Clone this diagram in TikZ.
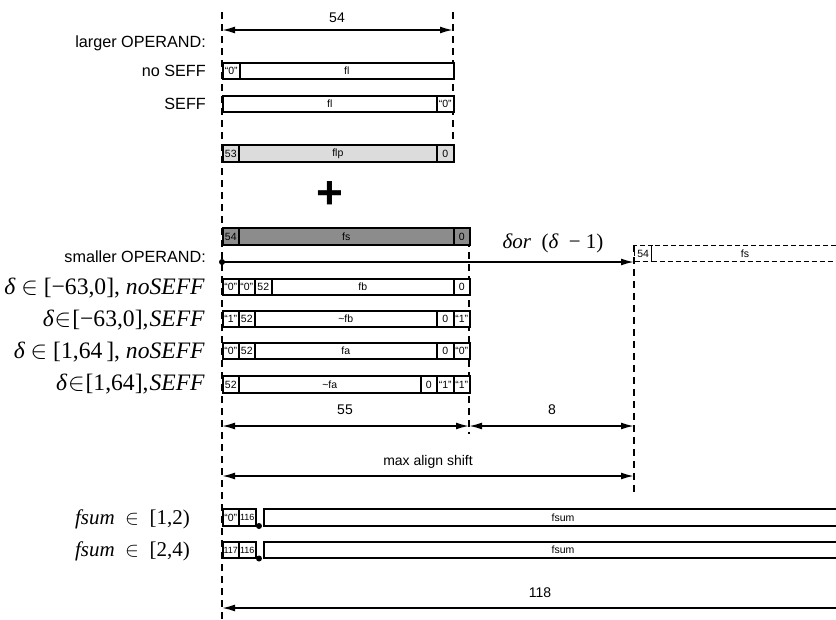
\documentclass[tikz,border=0pt]{standalone}
\usepackage{fontspec}
\setmainfont{Liberation Serif}
\setsansfont{Liberation Sans}
\usetikzlibrary{arrows.meta}
\definecolor{lightfill}{RGB}{220,220,220}
\definecolor{darkfill}{RGB}{140,140,140}
\tikzset{
  cell/.style={draw, line width=1.6pt, minimum height=16.5pt, inner sep=0pt, anchor=west,
               font=\fontsize{10.5}{10.5}\selectfont\sffamily},
  dcell/.style={cell, dashed, dash pattern=on 5pt off 3pt, line width=1.3pt},
  guide/.style={line width=1.8pt, dash pattern=on 7pt off 5pt},
  dim/.style={line width=1.8pt, {Latex[length=13pt,width=7pt]}-{Latex[length=13pt,width=7pt]}},
  dimr/.style={line width=1.8pt, -{Latex[length=13pt,width=7pt]}},
  diml/.style={line width=1.8pt, {Latex[length=13pt,width=7pt]}-},
  lbl/.style={font=\fontsize{16.2}{16.2}\selectfont\sffamily, anchor=east, inner sep=0pt},
  num/.style={font=\fontsize{14}{14}\selectfont\sffamily, inner sep=0pt},
  mlbl/.style={font=\fontsize{23.6}{23.6}\selectfont\rmfamily, anchor=east, inner sep=0pt},
  flbl/.style={font=\fontsize{21}{21}\selectfont\rmfamily, anchor=east, inner sep=0pt},
  dotm/.style={circle, fill, inner sep=0pt, minimum size=6pt}
}
\newcommand\cellbox[6]{\node[cell, fill=#6, minimum width={#3-#2}] (#1) at (#2,#4) {#5};}
\newcommand\dlt{{\itshape δ}}
\begin{document}
\begin{tikzpicture}[x=1pt, y=-1pt]
\useasboundingbox (0,0) rectangle (836,619);
\clip (0,0) rectangle (836,619);

% guide lines
\coordinate (gA1) at (222,12);  \coordinate (gA2) at (222,619);
\coordinate (gB1) at (453,12);  \coordinate (gB2) at (453,162);
\coordinate (gC1) at (469,228); \coordinate (gC2) at (469,434);
\coordinate (gD1) at (634,245); \coordinate (gD2) at (634,492);
\draw[guide] (gA1) -- (gA2);
\draw[guide] (gB1) -- (gB2);
\draw[guide] (gC1) -- (gC2);
\draw[guide] (gD1) -- (gD2);

% dimension 54
\coordinate (d54a) at (222,30); \coordinate (d54b) at (453,30);
\draw[dim] (d54a) -- (d54b);
\node[num] (t54) at (337,18) {54};

% left labels
\node[lbl] (lLarger) at (206,43) {larger OPERAND:};
\node[lbl] (lNoSeff) at (206,71) {no SEFF};
\node[lbl] (lSeff) at (206,104) {SEFF};
\node[lbl] (lSmaller) at (206,257) {smaller OPERAND:};

% larger operand rows
\cellbox{a1}{222}{239}{71}{``0''}{white}
\cellbox{a2}{239}{453}{71}{fl}{white}
\cellbox{b1}{222}{436}{104}{fl}{white}
\cellbox{b2}{436}{453}{104}{``0''}{white}
\cellbox{c1}{222}{238}{153.5}{53}{lightfill}
\cellbox{c2}{238}{436}{153.5}{flp}{lightfill}
\cellbox{c3}{436}{453}{153.5}{0}{lightfill}

\node[font=\fontsize{46}{46}\selectfont\sffamily\bfseries, inner sep=0pt] (plus) at (330,195) {+};

% smaller operand
\cellbox{s1}{222}{238}{236.5}{54}{darkfill}
\cellbox{s2}{238}{453}{236.5}{fs}{darkfill}
\cellbox{s3}{453}{469}{236.5}{0}{darkfill}

\node[dotm] (dot0) at (222,262) {};
\coordinate (shiftEnd) at (634,262);
\draw[dimr] (dot0.center) -- (shiftEnd);
\node[font=\fontsize{21}{21}\selectfont\rmfamily, inner sep=0pt] (tshift) at (553,243) {\dlt\textit{or}\ \ (\dlt\ \ −\ 1)};

\node[dcell, minimum width=17pt] (r1) at (634,253.5) {54};
\node[dcell, minimum width=200pt] (r2) at (651,253.5) {};
\node[font=\fontsize{10.5}{10.5}\selectfont\sffamily, inner sep=0pt] (r2t) at (745,253.5) {fs};

% aligned rows
\node[mlbl] (m1) at (205,288) {\dlt\ $\in$\ [−63,0], \textit{noSEFF}};
\node[mlbl] (m2) at (205,320) {\dlt\kern1pt$\in$\kern1pt[−63,0],\kern1pt\textit{SEFF}};
\node[mlbl] (m3) at (205,352) {\dlt\ $\in$\ [1,64\,], \textit{noSEFF}};
\node[mlbl] (m4) at (205,384) {\dlt\kern1pt$\in$\kern1pt[1,64],\kern1pt\textit{SEFF}};

\cellbox{e1}{222}{238}{287}{``0''}{white}
\cellbox{e2}{238}{254}{287}{``0''}{white}
\cellbox{e3}{254}{271}{287}{52}{white}
\cellbox{e4}{271}{453}{287}{fb}{white}
\cellbox{e5}{453}{469}{287}{0}{white}

\cellbox{f1}{222}{238}{319}{``1''}{white}
\cellbox{f2}{238}{254}{319}{52}{white}
\cellbox{f3}{254}{436}{319}{\textasciitilde fb}{white}
\cellbox{f4}{436}{453}{319}{0}{white}
\cellbox{f5}{453}{469}{319}{``1''}{white}

\cellbox{g1}{222}{238}{351}{``0''}{white}
\cellbox{g2}{238}{254}{351}{52}{white}
\cellbox{g3}{254}{436}{351}{fa}{white}
\cellbox{g4}{436}{453}{351}{0}{white}
\cellbox{g5}{453}{469}{351}{``0''}{white}

\cellbox{h1}{222}{238}{384.5}{52}{white}
\cellbox{h2}{238}{420}{384.5}{\textasciitilde fa}{white}
\cellbox{h3}{420}{436}{384.5}{0}{white}
\cellbox{h4}{436}{453}{384.5}{``1''}{white}
\cellbox{h5}{453}{469}{384.5}{``1''}{white}

% dimensions 55, 8
\coordinate (d55a) at (222,426); \coordinate (d55b) at (469,426); \coordinate (d8b) at (634,426);
\draw[dim] (d55a) -- (d55b);
\draw[dim] (d55b) -- (d8b);
\node[num] (t55) at (345,410) {55};
\node[num] (t8) at (552,410) {8};

% max align shift
\coordinate (dmA) at (222,476); \coordinate (dmB) at (634,476);
\draw[dim] (dmA) -- (dmB);
\node[num] (tmax) at (428,462) {max align shift};

% fsum rows
\node[flbl] (q1) at (190,519) {\textit{fsum}\ \ $\in$\ \ [1,2)};
\node[flbl] (q2) at (190,551) {\textit{fsum}\ \ $\in$\ \ [2,4)};

\cellbox{u1}{222}{238}{517.5}{``0''}{white}
\cellbox{u2}{238}{255}{517.5}{\fontsize{9}{9}\selectfont 116}{white}
\cellbox{u3}{263}{900}{517.5}{}{white}
\node[font=\fontsize{10.5}{10.5}\selectfont\sffamily, inner sep=0pt] (u3t) at (563,517.5) {fsum};
\node[dotm] (udot) at (259,526) {};

\cellbox{w1}{222}{238}{550}{\fontsize{9}{9}\selectfont 117}{white}
\cellbox{w2}{238}{255}{550}{\fontsize{9}{9}\selectfont 116}{white}
\cellbox{w3}{263}{900}{550}{}{white}
\node[font=\fontsize{10.5}{10.5}\selectfont\sffamily, inner sep=0pt] (w3t) at (563,550) {fsum};
\node[dotm] (wdot) at (259,558.5) {};

% dimension 118
\coordinate (d118a) at (222,608); \coordinate (d118b) at (840,608);
\draw[diml] (d118a) -- (d118b);
\node[num] (t118) at (540,593) {118};
\end{tikzpicture}
\end{document}
